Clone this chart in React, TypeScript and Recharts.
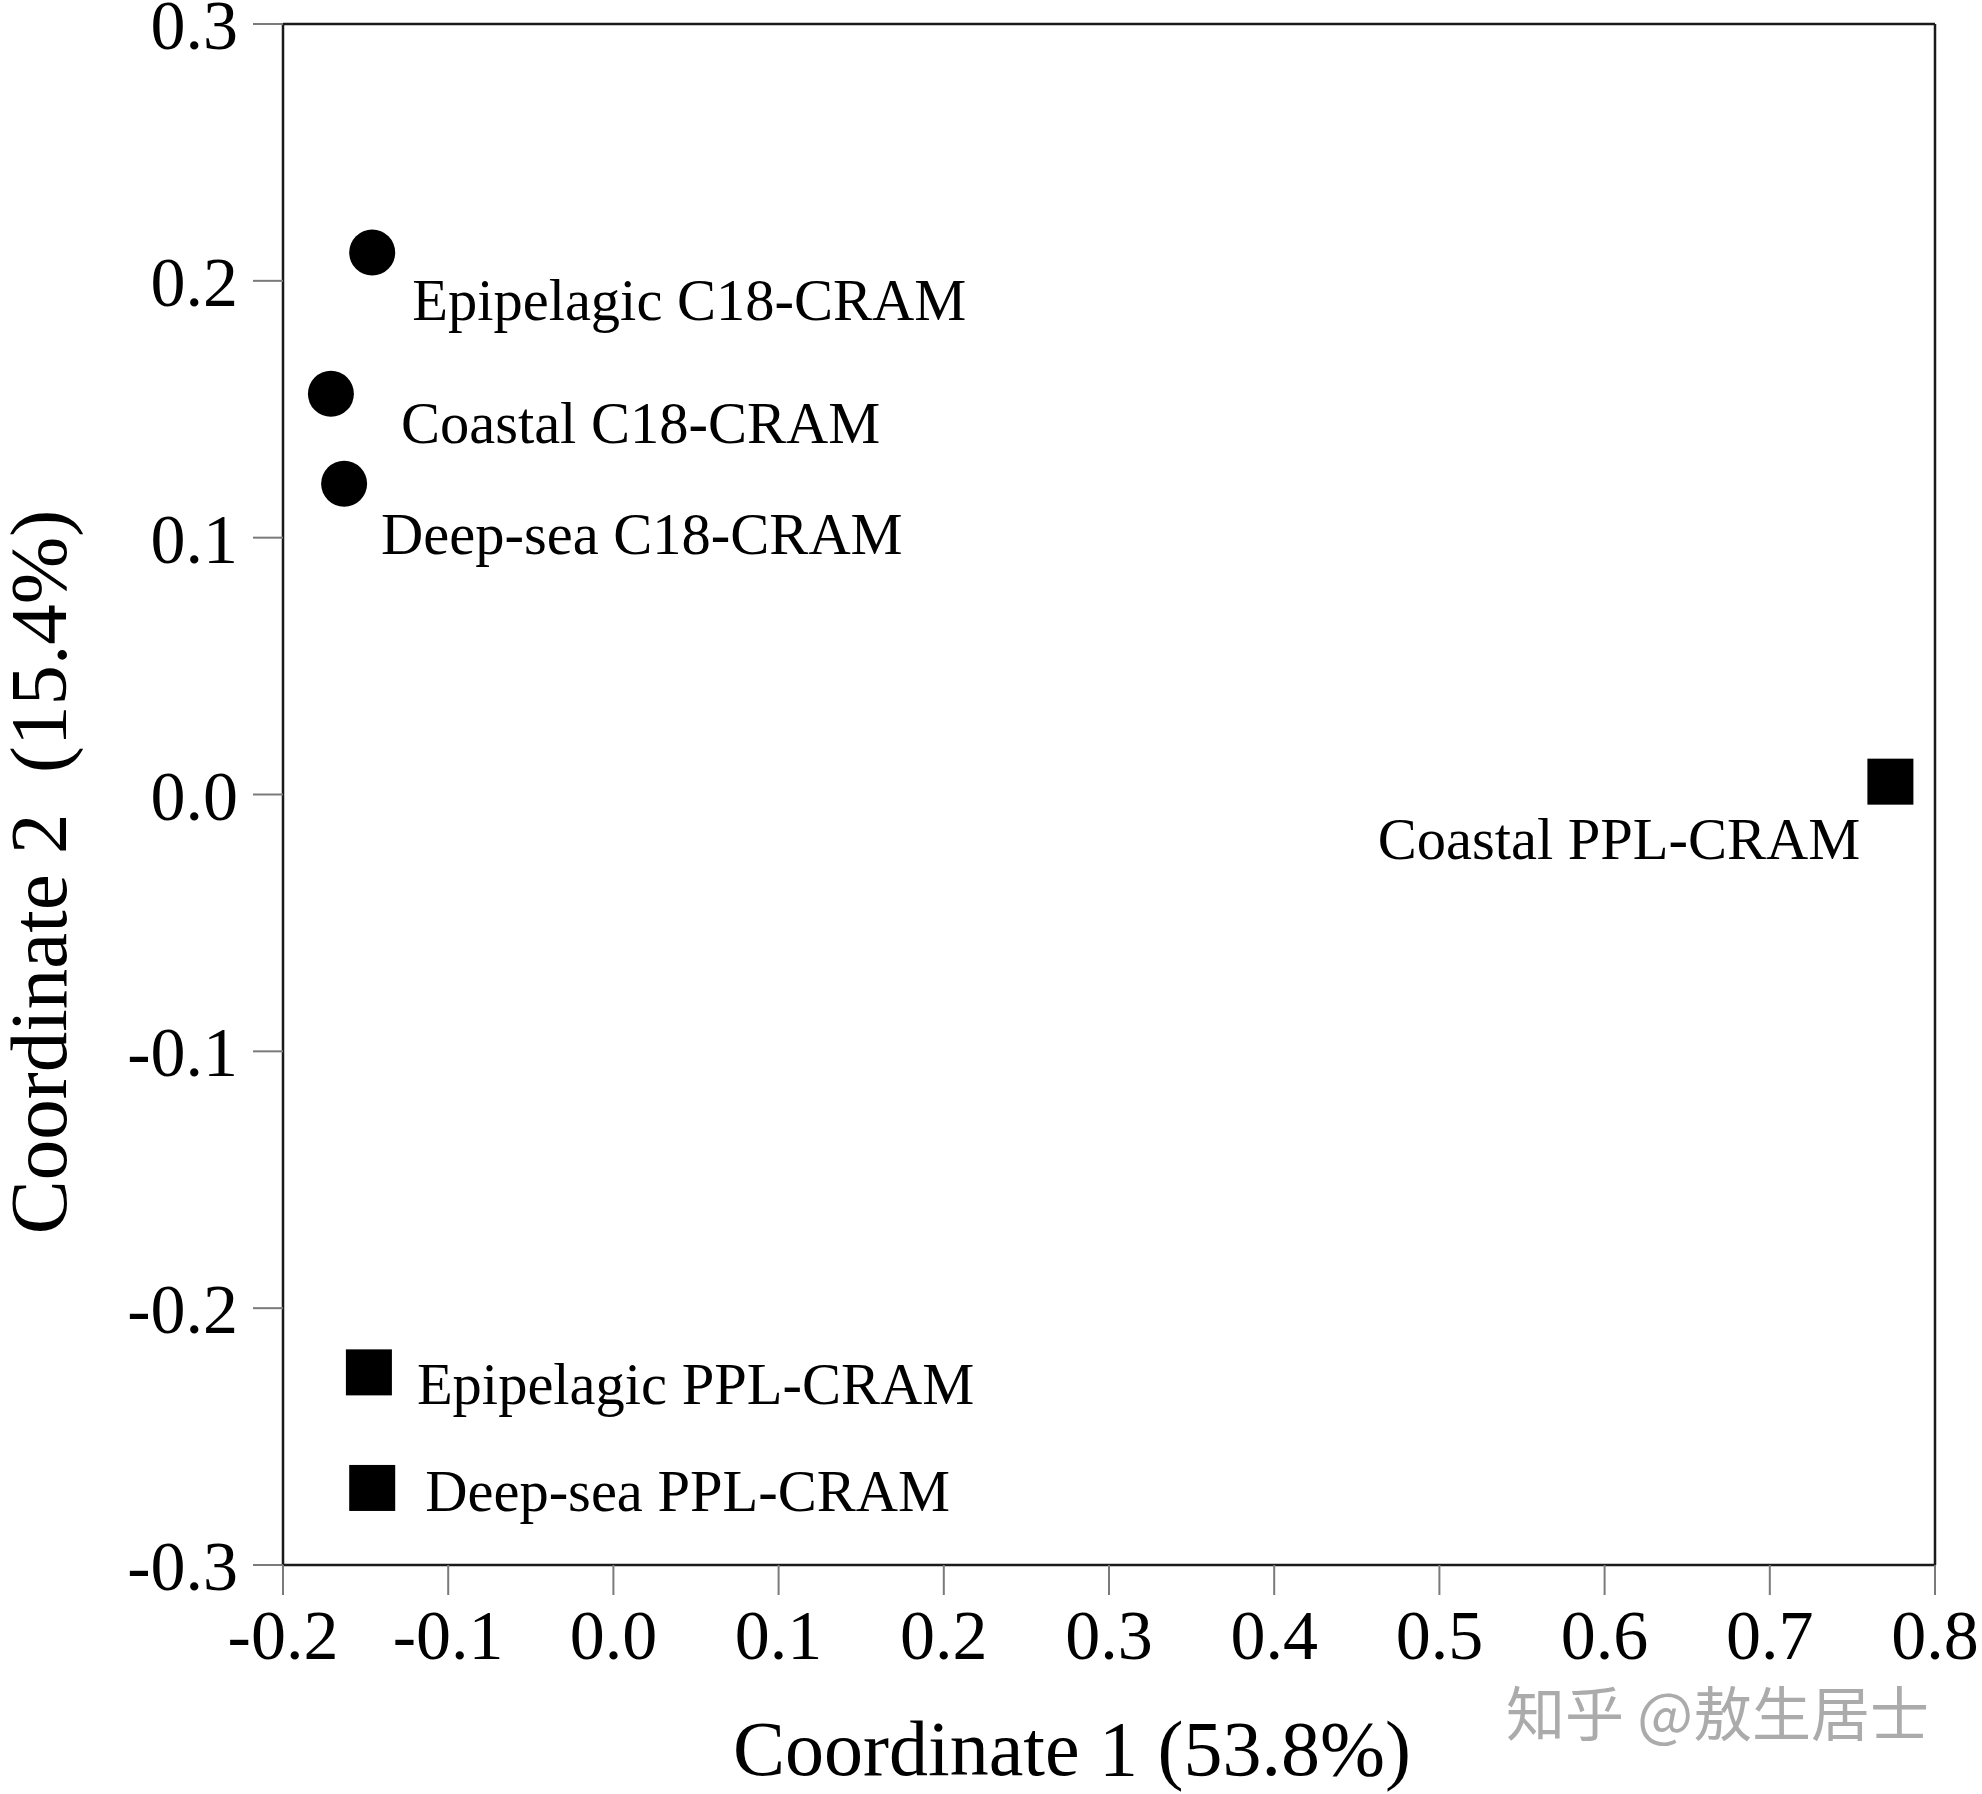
import { ScatterChart, Scatter, XAxis, YAxis, ReferenceLine } from "recharts";

// C18 extracts (circles)
const c18Names = ["Epipelagic C18-CRAM", "Coastal C18-CRAM", "Deep-sea C18-CRAM"];
const c18Coord1 = [-0.146, -0.171, -0.163];
const c18Coord2 = [0.211, 0.156, 0.121];

// PPL extracts (squares)
const pplNames = ["Coastal PPL-CRAM", "Epipelagic PPL-CRAM", "Deep-sea PPL-CRAM"];
const pplCoord1 = [0.773, -0.148, -0.146];
const pplCoord2 = [0.005, -0.225, -0.27];

const xTicks = [-0.2, -0.1, 0, 0.1, 0.2, 0.3, 0.4, 0.5, 0.6, 0.7, 0.8];
const yTicks = [-0.3, -0.2, -0.1, 0, 0.1, 0.2, 0.3];

const xTitle = "Coordinate 1 (53.8%)";
const yTitle = "Coordinate 2  (15.4%)";
const watermark = "知乎 @敖生居士";

const c18Data = c18Names.map((name, i) => ({ name, x: c18Coord1[i], y: c18Coord2[i] }));
const pplData = pplNames.map((name, i) => ({ name, x: pplCoord1[i], y: pplCoord2[i] }));

// where each sample name sits relative to its marker
const labelPlacement: Record<string, { dx: number; dy: number; anchor: "start" | "end" }> = {
  "Epipelagic C18-CRAM": { dx: 40, dy: 67, anchor: "start" },
  "Coastal C18-CRAM": { dx: 70, dy: 49, anchor: "start" },
  "Deep-sea C18-CRAM": { dx: 37, dy: 70, anchor: "start" },
  "Coastal PPL-CRAM": { dx: -30, dy: 77, anchor: "end" },
  "Epipelagic PPL-CRAM": { dx: 48, dy: 32, anchor: "start" },
  "Deep-sea PPL-CRAM": { dx: 53, dy: 23, anchor: "start" },
};

const FONT = '"Liberation Serif", "Times New Roman", serif';
const AXIS = "#1a1a1a";
const TICK = "#7a7a7a";

function SampleName({ cx, cy, name }: { cx: number; cy: number; name: string }) {
  const p = labelPlacement[name];
  return (
    <text x={cx + p.dx} y={cy + p.dy} textAnchor={p.anchor} fontFamily={FONT} fontSize={58.5} fill="#000">
      {name}
    </text>
  );
}

const CircleMark = (props: any) => {
  const { cx, cy, payload } = props;
  return (
    <g>
      <circle cx={cx} cy={cy} r={23} fill="#000" />
      <SampleName cx={cx} cy={cy} name={payload.name} />
    </g>
  );
};

const SquareMark = (props: any) => {
  const { cx, cy, payload } = props;
  return (
    <g>
      <rect x={cx - 23} y={cy - 23} width={46} height={46} fill="#000" />
      <SampleName cx={cx} cy={cy} name={payload.name} />
    </g>
  );
};

// plain tick text so the top label is not nudged inside the svg
const XTick = ({ x, y, payload }: any) => (
  <text x={x} y={y} dy={52} textAnchor="middle" fontFamily={FONT} fontSize={70} fill="#000">
    {Number(payload.value).toFixed(1)}
  </text>
);

const YTick = ({ x, y, payload }: any) => (
  <text x={x} y={y} dy={25} textAnchor="end" fontFamily={FONT} fontSize={70} fill="#000">
    {Number(payload.value).toFixed(1)}
  </text>
);

export default function App() {
  return (
    <div style={{ position: "absolute", left: 0, top: 0, width: 1982, height: 1794, background: "#fff" }}>
      <ScatterChart width={1982} height={1794} margin={{ top: 24, right: 47, bottom: 0, left: 0 }}>
        <XAxis
          type="number"
          dataKey="x"
          domain={[-0.2, 0.8]}
          ticks={xTicks}
          height={229}
          tick={XTick}
          tickSize={30}
          tickMargin={12}
          tickLine={{ stroke: TICK, strokeWidth: 2 }}
          axisLine={{ stroke: AXIS, strokeWidth: 2.5 }}
          allowDataOverflow
          label={{
            content: () => (
              <text x={1072} y={1775} textAnchor="middle" fontFamily={FONT} fontSize={78} fill="#000">
                {xTitle}
              </text>
            ),
          }}
        />
        <YAxis
          type="number"
          dataKey="y"
          domain={[-0.3, 0.3]}
          ticks={yTicks}
          width={283}
          tick={YTick}
          tickSize={30}
          tickMargin={15}
          tickLine={{ stroke: TICK, strokeWidth: 2 }}
          axisLine={{ stroke: AXIS, strokeWidth: 2.5 }}
          allowDataOverflow
          label={{
            content: () => (
              <text
                transform="translate(66,872) rotate(-90)"
                textAnchor="middle"
                fontFamily={FONT}
                fontSize={81}
                fill="#000"
                style={{ whiteSpace: "pre" }}
              >
                {yTitle}
              </text>
            ),
          }}
        />
        {/* close the frame on top and right */}
        <ReferenceLine y={0.3} stroke={AXIS} strokeWidth={2.5} />
        <ReferenceLine x={0.8} stroke={AXIS} strokeWidth={2.5} />
        <Scatter data={c18Data} shape={CircleMark} isAnimationActive={false} />
        <Scatter data={pplData} shape={SquareMark} isAnimationActive={false} />
      </ScatterChart>
      <div
        style={{
          position: "absolute",
          left: 1506,
          top: 1668,
          fontFamily: '"Noto Sans CJK SC", sans-serif',
          fontSize: 59,
          color: "#ababab",
          whiteSpace: "pre",
        }}
      >
        {watermark}
      </div>
    </div>
  );
}
